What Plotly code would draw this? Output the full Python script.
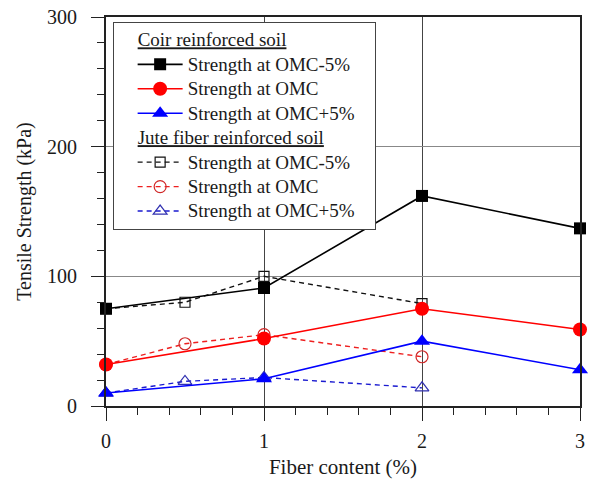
import plotly.graph_objects as go

# ---- data ----
coir_x = [0, 1, 2, 3]
coir_omc_m5 = [75, 91, 162, 137]
coir_omc = [32, 52, 75, 59]
coir_omc_p5 = [10, 21, 50, 28]

jute_x = [0, 0.5, 1, 2]
jute_omc_m5 = [75, 80, 100, 79]
jute_omc = [32, 48, 55, 38]
jute_omc_p5 = [10, 19, 22, 14]

series_names = ["Strength at OMC-5%", "Strength at OMC", "Strength at OMC+5%"]
group_titles = ["Coir reinforced soil", "Jute fiber reinforced soil"]

FONT = "Times New Roman, Liberation Serif, serif"
TXT = "#1a1a1a"
LEG_ROW = 16.5    # controls legend row spacing
LEG_TXT = 19      # visible legend text size


def big(s):
    pad = "&nbsp;&nbsp;&nbsp;" if s.endswith("+5%") else ""
    return "<span style='font-size:%dpx'>%s%s</span>" % (LEG_TXT, s, pad)


def title(s):
    return "<span style='font-size:%dpx'>&nbsp;&nbsp;&nbsp;&nbsp;<u>%s</u></span>" % (LEG_TXT, s)


fig = go.Figure()

# jute (dashed, open markers) drawn first so filled coir markers sit on top
jute_specs = [
    (jute_omc_m5, "#111111", "#111111", "square-open", 10),
    (jute_omc, "#ee2020", "#d02828", "circle-open", 12),
    (jute_omc_p5, "#1a1ad0", "#3030b0", "triangle-up-open", 12),
]
for i, (vals, lc, mc, sym, sz) in enumerate(jute_specs):
    fig.add_trace(go.Scatter(
        x=jute_x, y=vals, mode="lines+markers", name=big(series_names[i]),
        line=dict(color=lc, width=1.4, dash="5px,4px"),
        marker=dict(symbol=sym, size=sz, color=mc, line=dict(width=1.2, color=mc)),
        legendgroup="jute",
        legendgrouptitle=dict(text=title(group_titles[1]),
                              font=dict(family=FONT, size=LEG_ROW, color=TXT)),
        legendrank=10 + i, cliponaxis=False,
    ))

coir_specs = [
    (coir_omc_m5, "#000000", "square", 12),
    (coir_omc, "#ff0000", "circle", 14),
    (coir_omc_p5, "#0000ff", "triangle-up", 14),
]
for i, (vals, c, sym, sz) in enumerate(coir_specs):
    fig.add_trace(go.Scatter(
        x=coir_x, y=vals, mode="lines+markers", name=big(series_names[i]),
        line=dict(color=c, width=1.6),
        marker=dict(symbol=sym, size=sz, color=c, line=dict(width=0)),
        legendgroup="coir",
        legendgrouptitle=dict(text=title(group_titles[0]),
                              font=dict(family=FONT, size=LEG_ROW, color=TXT)),
        legendrank=1 + i, cliponaxis=False,
    ))

fig.update_layout(
    width=589, height=480,
    margin=dict(l=106, r=9, t=17, b=74),
    paper_bgcolor="white", plot_bgcolor="white",
    font=dict(family=FONT, size=20, color=TXT),
    showlegend=True,
    legend=dict(
        x=0.014, y=0.988, xanchor="left", yanchor="top",
        bgcolor="white", bordercolor="#444444", borderwidth=1,
        font=dict(family=FONT, size=LEG_ROW, color=TXT),
        tracegroupgap=0, traceorder="grouped", itemwidth=45,
        indentation=19,
    ),
    xaxis=dict(
        range=[0, 3], tickvals=[0, 1, 2, 3], ticktext=["0", "1", "2", "3"],
        tickfont=dict(family=FONT, size=20, color=TXT),
        ticks="outside", ticklen=13, tickwidth=1.2, tickcolor="#222222",
        minor=dict(dtick=0.2, ticks="outside", ticklen=7, tickwidth=1.2, tickcolor="#222222", showgrid=False),
        showline=True, linewidth=2, linecolor="#222222", mirror=True,
        showgrid=True, gridcolor="#444444", gridwidth=1, zeroline=False,
        title=dict(text="Fiber content (%)", standoff=8, font=dict(family=FONT, size=21, color=TXT)),
        ticklabelstandoff=3, automargin=False,
    ),
    yaxis=dict(
        range=[0, 300], tickvals=[0, 100, 200, 300], ticktext=["0", "100", "200", "300"],
        tickfont=dict(family=FONT, size=20, color=TXT),
        ticks="outside", ticklen=13, tickwidth=1.2, tickcolor="#222222",
        minor=dict(dtick=20, ticks="outside", ticklen=7, tickwidth=1.2, tickcolor="#222222", showgrid=False),
        showline=True, linewidth=2, linecolor="#222222", mirror=True,
        showgrid=True, gridcolor="#888888", gridwidth=1, zeroline=False,
        title=dict(text="Tensile Strength (kPa)", standoff=10, font=dict(family=FONT, size=20, color=TXT)),
        ticklabelstandoff=10, automargin=False,
    ),
)

fig.write_html("out.html")
